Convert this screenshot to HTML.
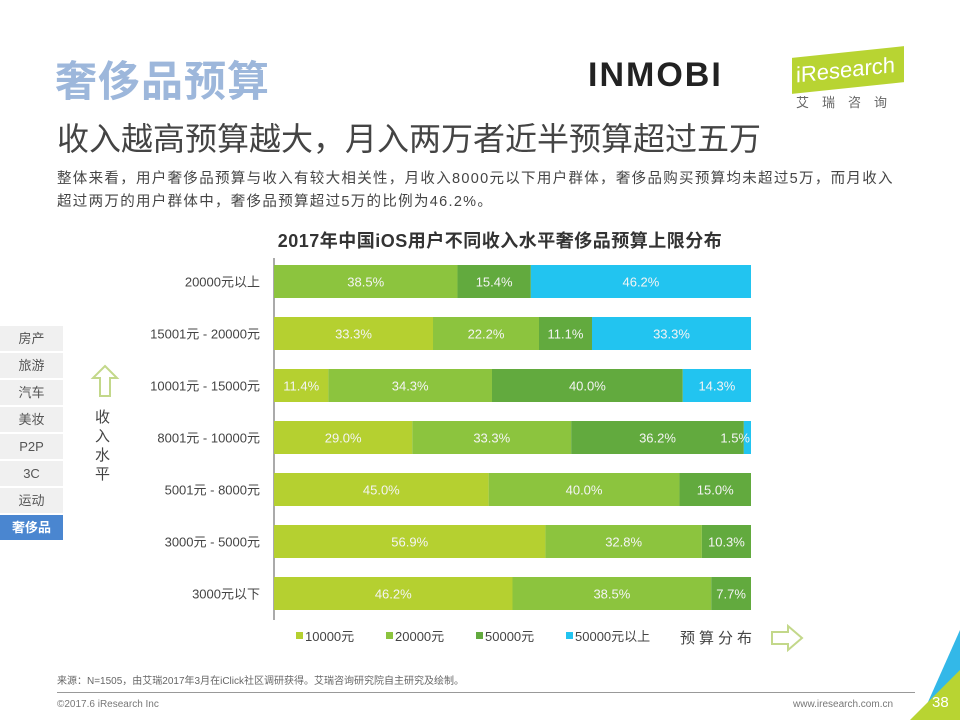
<!DOCTYPE html>
<html><head><meta charset="utf-8"><style>
body{margin:0;width:960px;height:720px;background:#fff;position:relative;overflow:hidden;font-family:"Liberation Sans","Noto Sans CJK SC",sans-serif;}
.abs{position:absolute;}
.nav div{position:absolute;left:0;width:63px;height:25px;background:#f0f0f0;color:#555;font-size:13px;text-align:center;line-height:25px;}
</style></head><body>
<div class="abs" style="left:55px;top:48px;font-size:42px;font-weight:bold;color:#9db7db;letter-spacing:1px;">奢侈品预算</div>
<div class="abs" style="left:588px;top:56px;font-size:34px;font-weight:bold;color:#222;letter-spacing:2px;">INMOBI</div>
<div class="abs" style="left:792px;top:52px;width:112px;height:36px;background:#b8d432;transform:skewY(-6deg);color:#fff;font-size:22px;line-height:36px;padding-left:4px;box-sizing:border-box;">iResearch</div>
<div class="abs" style="left:796px;top:92px;font-size:13px;color:#666;letter-spacing:13px;">艾瑞咨询</div>
<div class="abs" style="left:57px;top:114px;font-size:32px;color:#444;">收入越高预算越大，月入两万者近半预算超过五万</div>
<div class="abs" style="left:57px;top:168px;width:900px;font-size:14.5px;line-height:23px;color:#444;letter-spacing:1.3px;white-space:nowrap;">整体来看，用户奢侈品预算与收入有较大相关性，月收入8000元以下用户群体，奢侈品购买预算均未超过5万，而月收入<br>超过两万的用户群体中，奢侈品预算超过5万的比例为46.2%。</div>
<div class="abs" style="left:0;width:1000px;top:227px;text-align:center;font-size:18px;font-weight:bold;color:#333;letter-spacing:0.5px;">2017年中国iOS用户不同收入水平奢侈品预算上限分布</div>
<div class="nav">
<div style="top:326px">房产</div>
<div style="top:353px">旅游</div>
<div style="top:380px">汽车</div>
<div style="top:407px">美妆</div>
<div style="top:434px">P2P</div>
<div style="top:461px">3C</div>
<div style="top:488px">运动</div>
<div style="top:515px;background:#4a86d0;color:#fff;font-weight:bold">奢侈品</div>
</div>
<svg class="abs" style="left:90px;top:364px" width="30" height="36"><path d="M15 2 L27 14 L20 14 L20 32 L10 32 L10 14 L3 14 Z" fill="none" stroke="#c3d88a" stroke-width="2"/></svg>
<div class="abs" style="left:95px;top:408px;width:16px;font-size:15px;line-height:19px;color:#444;">收入水平</div>
<svg id="chart" class="abs" style="left:0;top:0" width="960" height="720"></svg>
<div class="abs" style="left:680px;top:627px;font-size:15px;color:#444;letter-spacing:4px;">预算分布</div>
<svg class="abs" style="left:770px;top:624px" width="36" height="28"><path d="M2 8 L18 8 L18 2 L32 14 L18 26 L18 20 L2 20 Z" fill="none" stroke="#c3d88a" stroke-width="2"/></svg>
<div class="abs" style="left:57px;top:672px;font-size:10px;color:#666;">来源：N=1505，由艾瑞2017年3月在iClick社区调研获得。艾瑞咨询研究院自主研究及绘制。</div>
<div class="abs" style="left:57px;top:692px;width:858px;height:1px;background:#999;"></div>
<div class="abs" style="left:57px;top:699px;font-size:10px;color:#777;">©2017.6 iResearch Inc</div>
<div class="abs" style="left:793px;top:699px;font-size:10px;color:#777;">www.iresearch.com.cn</div>
<svg class="abs" style="left:900px;top:630px" width="60" height="90"><polygon points="60,0 60,90 20,90" fill="#33b8e8"/><polygon points="60,40 60,90 10,90" fill="#b8d432"/></svg>
<div class="abs" style="left:932px;top:694px;font-size:15px;color:#fff;">38</div>
<script>
const categories=["20000元以上","15001元 - 20000元","10001元 - 15000元","8001元 - 10000元","5001元 - 8000元","3000元 - 5000元","3000元以下"];
const seriesNames=["10000元","20000元","50000元","50000元以上"];
const s10000=[0,33.3,11.4,29.0,45.0,56.9,46.2];
const s20000=[38.5,22.2,34.3,33.3,40.0,32.8,38.5];
const s50000=[15.4,11.1,40.0,36.2,15.0,10.3,7.7];
const s50000plus=[46.2,33.3,14.3,1.5,0,0,0];
const series=[s10000,s20000,s50000,s50000plus];
const colors=["#b5d030","#8cc43e","#62aa3e","#22c4f0"];
const svg=document.getElementById('chart');
const NS="http://www.w3.org/2000/svg";
const x0=274,x1=751,yTop=265,pitch=52,bh=33;
function xs(v){return v/100*(x1-x0);}
function yr(i){return yTop+i*pitch;}
function mk(t,a){const e=document.createElementNS(NS,t);for(const k in a)e.setAttribute(k,a[k]);svg.appendChild(e);return e;}
const ax=mk('line',{x1:x0,x2:x0,y1:258,y2:620,stroke:'#555','stroke-width':1});


categories.forEach((c,i)=>{
  const tl=mk('text',{x:x0-14,y:yr(i)+bh/2+5,'text-anchor':'end','font-size':13,fill:'#444'});
  tl.textContent=c;
  
  
  let tot=0;series.forEach(s=>tot+=s[i]);
  let acc=0;
  series.forEach((s,j)=>{
    const v=s[i];if(v<=0)return;
    const x=x0+xs(acc/tot*100),w=xs(v/tot*100);
    const r=mk('rect',{x:x,y:yr(i),width:w,height:bh,fill:colors[j]});
    
    
    const t=mk('text',{x:v<3?x1-1:x+w/2,y:yr(i)+bh/2+5,'text-anchor':v<3?'end':'middle','font-size':13,fill:'#f4f4f4'});
    t.textContent=v.toFixed(1)+'%';
    
    
    acc+=v;
  });
});
const lx=[296,386,476,566];
seriesNames.forEach((n,j)=>{
  const r=mk('rect',{x:lx[j],y:632,width:7,height:7,fill:colors[j]});
  
  
  const t=mk('text',{x:lx[j]+9,y:641,'font-size':13,fill:'#444'});
  t.textContent=n;
  
  
});
</script>
</body></html>
